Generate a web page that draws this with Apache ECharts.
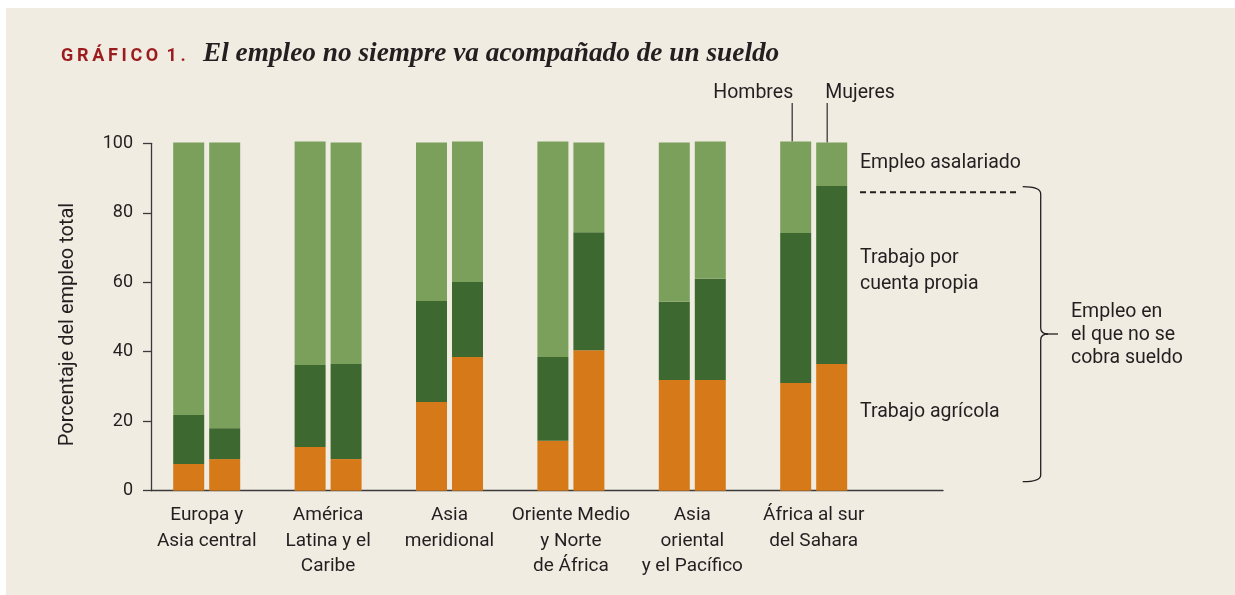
<!DOCTYPE html>
<html><head><meta charset="utf-8">
<script src="https://cdn.jsdelivr.net/npm/echarts@6/dist/echarts.min.js"></script>
<style>html,body{margin:0;padding:0;background:#fff}#c{width:1235px;height:595px}</style>
</head><body><div id="c"></div>
<script>
// ---- data ----
const categories = ['Europa y\nAsia central', 'América\nLatina y el\nCaribe', 'Asia\nmeridional', 'Oriente Medio\ny Norte\nde África', 'Asia\noriental\ny el Pacífico', 'África al sur\ndel Sahara'];
const yTicks = [0, 20, 40, 60, 80, 100];
// Hombres (men)
const agricolaH = [7.7, 12.6, 25.5, 14.4, 31.9, 31.0];
const propiaH   = [14.1, 23.6, 29.1, 24.1, 22.5, 43.2];
const asalariadoH = [78.4, 64.3, 45.6, 62.0, 45.8, 26.3];
// Mujeres (women)
const agricolaM = [9.1, 9.1, 38.5, 40.4, 31.9, 36.5];
const propiaM   = [8.9, 27.4, 21.6, 34.0, 29.1, 51.2];
const asalariadoM = [82.2, 63.7, 40.4, 25.8, 39.5, 12.5];

const FONT = 'Roboto, "Noto Sans", sans-serif';
const TXT = '#231f20';
const AX = '#3a3a3a';
const C_AGR = '#d67918', C_PROP = '#3d682f', C_ASAL = '#7ba05c';

const chart = echarts.init(document.getElementById('c'), null, {renderer: 'canvas'});

function bar(name, stack, data, color) {
  return {name, type: 'bar', stack, data, xAxisIndex: 0, yAxisIndex: 0,
    barWidth: 31, barGap: '16.1%', itemStyle: {color}, clip: false, silent: true};
}

chart.setOption({
  animation: false,
  grid: [
    {left: 146, top: 143.3, width: 728.4, height: 347.4},
    {left: 151, top: 143.3, width: 792, height: 347.4}
  ],
  xAxis: [
    {type: 'category', gridIndex: 0, data: categories,
      axisLine: {show: false}, axisTick: {show: false}, splitLine: {show: false},
      axisLabel: {interval: 0, margin: 12, fontSize: 19, lineHeight: 25.5, color: TXT, fontFamily: FONT}},
    {type: 'value', gridIndex: 1, min: 0, max: 1,
      axisLine: {show: true, lineStyle: {color: AX, width: 1.3}},
      axisTick: {show: false}, axisLabel: {show: false}, splitLine: {show: false}}
  ],
  yAxis: [
    {type: 'value', gridIndex: 0, min: yTicks[0], max: yTicks[yTicks.length - 1], show: false},
    {type: 'value', gridIndex: 1, min: yTicks[0], max: yTicks[yTicks.length - 1], interval: yTicks[1] - yTicks[0],
      axisLine: {show: true, lineStyle: {color: AX, width: 1.3}},
      axisTick: {show: true, length: 8, lineStyle: {color: AX, width: 1.3}},
      axisLabel: {margin: 18, fontSize: 18, color: TXT, fontFamily: FONT},
      splitLine: {show: false},
      name: 'Porcentaje del empleo total', nameLocation: 'middle', nameGap: 73, nameRotate: 90,
      nameTextStyle: {fontSize: 20, color: TXT, fontFamily: FONT, padding: [0, 15, 0, 0]}}
  ],
  series: [
    bar('Trabajo agrícola (Hombres)', 'H', agricolaH, C_AGR),
    bar('Trabajo por cuenta propia (Hombres)', 'H', propiaH, C_PROP),
    bar('Empleo asalariado (Hombres)', 'H', asalariadoH, C_ASAL),
    bar('Trabajo agrícola (Mujeres)', 'M', agricolaM, C_AGR),
    bar('Trabajo por cuenta propia (Mujeres)', 'M', propiaM, C_PROP),
    bar('Empleo asalariado (Mujeres)', 'M', asalariadoM, C_ASAL)
  ]
});

// annotations
const last = categories.length - 1;
const cx = chart.convertToPixel({xAxisIndex: 0}, categories[last]);
const topH = chart.convertToPixel({yAxisIndex: 0}, agricolaH[last] + propiaH[last] + asalariadoH[last]);
const topM = chart.convertToPixel({yAxisIndex: 0}, agricolaM[last] + propiaM[last] + asalariadoM[last]);
const xH = cx - 21.5, xM = cx + 13.5;
const lbl = (text, x, y, extra) => Object.assign({type: 'text', silent: true,
  style: Object.assign({text, x, y, font: '19.5px ' + FONT, fill: TXT, textVerticalAlign: 'middle'}, extra || {})});
const ln = (x1, y1, x2, y2) => ({type: 'line', silent: true, shape: {x1, y1, x2, y2}, style: {stroke: TXT, lineWidth: 1.3}});
const qc = (x1, y1, cpx1, cpy1, x2, y2) => ({type: 'bezierCurve', silent: true,
  shape: {x1, y1, cpx1, cpy1, x2, y2}, style: {stroke: TXT, lineWidth: 1.3, fill: null}});
const BX = 1040.7;

chart.setOption({
  graphic: [
    {type: 'rect', z: -10, silent: true, shape: {x: 6, y: 8, width: 1235, height: 595}, style: {fill: '#f0ece2'}},
    {type: 'text', silent: true, style: {text: 'G\u2009R\u2009Á\u2009F\u2009I\u2009C\u2009O\u2009 1\u2009.', x: 61, y: 56,
      font: 'bold 18px ' + FONT, fill: '#9b1b1f', textVerticalAlign: 'middle'}},
    {type: 'text', silent: true, style: {text: 'El empleo no siempre va acompañado de un sueldo', x: 203, y: 53.5,
      font: 'italic bold 27.3px "Liberation Serif", "DejaVu Serif", serif', fill: TXT, textVerticalAlign: 'middle'}},
    // Hombres / Mujeres callouts
    {type: 'line', silent: true, shape: {x1: xH, y1: 103, x2: xH, y2: topH}, style: {stroke: AX, lineWidth: 1.3}},
    {type: 'line', silent: true, shape: {x1: xM, y1: 103, x2: xM, y2: topM}, style: {stroke: AX, lineWidth: 1.3}},
    lbl('Hombres', xH + 1, 93, {textAlign: 'right'}),
    lbl('Mujeres', xM - 2, 93, {textAlign: 'left'}),
    // right legend
    lbl('Empleo asalariado', 860, 163),
    lbl('Trabajo por\ncuenta propia', 860, 271, {lineHeight: 26}),
    lbl('Trabajo agrícola', 860, 412),
    lbl('Empleo en\nel que no se\ncobra sueldo', 1071, 335.5, {lineHeight: 23}),
    {type: 'line', silent: true, shape: {x1: 860, y1: 192.3, x2: 1017, y2: 192.3},
      style: {stroke: TXT, lineWidth: 2, lineDash: [6, 4]}},
    // bracket
    qc(1022.7, 186.7, BX, 186.7, BX, 194),
    ln(BX, 194, BX, 328),
    qc(BX, 328, BX, 334, 1048, 334),
    ln(1048, 334, 1058, 334),
    qc(1048, 334, BX, 334, BX, 340),
    ln(BX, 340, BX, 475),
    qc(BX, 475, BX, 481.7, 1022.7, 481.7)
  ]
});
</script></body></html>
